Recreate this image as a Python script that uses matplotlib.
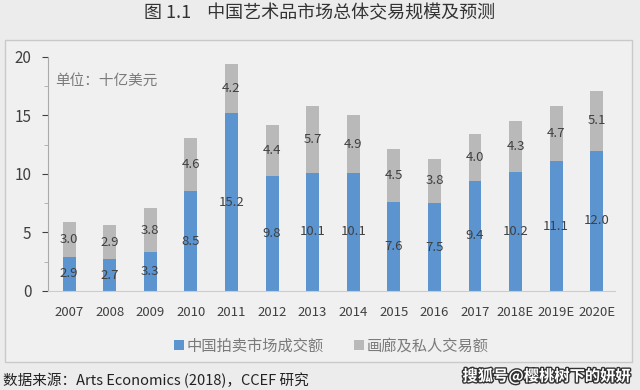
"""China art market total transaction size and forecast."""

import matplotlib.pyplot as plt
import matplotlib.patheffects as pe
from matplotlib.patches import Rectangle
from matplotlib.ticker import MultipleLocator

plt.rcParams["font.family"] = ["Noto Sans CJK SC", "DejaVu Sans"]

years = ["2007", "2008", "2009", "2010", "2011", "2012", "2013", "2014",
         "2015", "2016", "2017", "2018E", "2019E", "2020E"]
auction = [2.9, 2.7, 3.3, 8.5, 15.2, 9.8, 10.1, 10.1, 7.6, 7.5, 9.4, 10.2, 11.1, 12.0]
gallery = [3.0, 2.9, 3.8, 4.6, 4.2, 4.4, 5.7, 4.9, 4.5, 3.8, 4.0, 4.3, 4.7, 5.1]

blue = "#5b94cf"
grey = "#b9b9b9"
txt = "#404040"

fig = plt.figure(figsize=(6.4, 3.9), dpi=100)
fig.patch.set_facecolor("#ececec")

# chart frame, kept behind the axes
fig.add_artist(Rectangle((0.008, 0.072), 0.98, 0.825, transform=fig.transFigure,
                         facecolor="#f0f0f0", edgecolor="#c9c9c9", lw=1.0,
                         zorder=-10))

ax = fig.add_axes([0.075, 0.254, 0.886, 0.60])
ax.set_facecolor("none")
x = range(len(years))
w = 0.32
ax.bar(x, auction, w, color=blue, label="中国拍卖市场成交额")
ax.bar(x, gallery, w, bottom=auction, color=grey, label="画廊及私人交易额")

for i, (a, g) in enumerate(zip(auction, gallery)):
    ax.text(i, a / 2, f"{a:.1f}", ha="center", va="center", fontsize=9.5, color=txt)
    ax.text(i, a + g / 2, f"{g:.1f}", ha="center", va="center", fontsize=9.5, color=txt)

ax.set_xlim(-0.52, 13.45)
ax.set_ylim(0, 20)
ax.set_xticks(list(x))
ax.set_xticklabels(years, fontsize=9.5, color=txt)
ax.yaxis.set_major_locator(MultipleLocator(5))
ax.yaxis.set_minor_locator(MultipleLocator(2.5))
ax.tick_params(axis="y", labelsize=11, colors=txt, length=4, width=0.8, pad=8)
ax.tick_params(axis="y", which="minor", length=3, color="#aaaaaa")
ax.tick_params(axis="x", length=0, pad=11)
for s in ["top", "right"]:
    ax.spines[s].set_visible(False)
ax.spines["left"].set_color("#aaaaaa")
ax.spines["bottom"].set_color("#cccccc")

ax.text(0.012, 0.93, "单位：十亿美元", transform=ax.transAxes, fontsize=10.5,
        color="#7a7a7a", va="top")

ax.legend(loc="upper center", bbox_to_anchor=(0.5, -0.14), ncol=2, frameon=False,
          fontsize=11, handlelength=0.6, handleheight=0.6, columnspacing=2.0,
          handletextpad=0.2, labelcolor="#7a7a7a")

fig.text(0.5, 0.965, "图 1.1    中国艺术品市场总体交易规模及预测", ha="center",
         va="center", fontsize=13, color="#333333")
fig.text(0.005, 0.025, "数据来源：Arts Economics (2018)，CCEF 研究", ha="left",
         va="center", fontsize=10.5, color="#222222")
fig.text(0.985, 0.035, "搜狐号@樱桃树下的妍妍", ha="right", va="center",
         fontsize=11, color="white", fontweight="bold",
         path_effects=[pe.withStroke(linewidth=2, foreground="#333333")])

fig.savefig("out.png", dpi=100, facecolor=fig.get_facecolor())
